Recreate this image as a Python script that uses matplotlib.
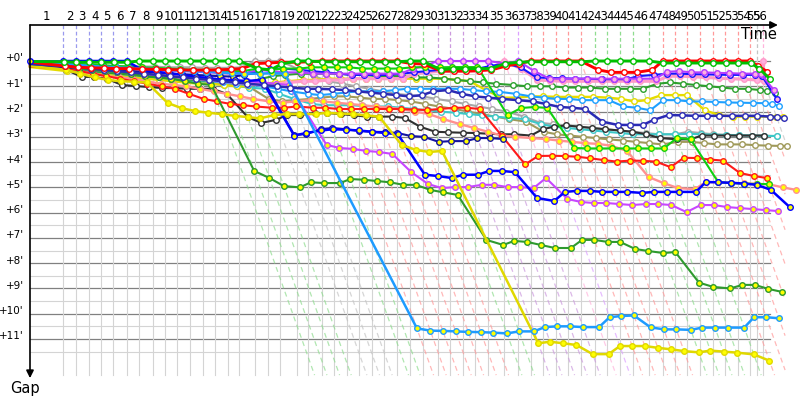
import matplotlib
matplotlib.use('Agg')
import matplotlib.pyplot as plt

# leader's lap end times (minutes of race time)
lap_end = [3.70, 5.11, 6.52, 7.89, 9.26, 10.74, 12.14, 13.63, 15.00, 16.37,
           17.78, 19.19, 20.56, 21.97, 23.26, 25.00, 26.41, 27.81, 29.63, 30.92,
           32.41, 33.81, 35.19, 36.59, 37.97, 39.37, 40.74, 42.22, 43.63, 45.30,
           46.67, 48.08, 49.48, 50.92, 52.70, 54.26, 55.63, 57.03, 58.41, 59.81,
           61.19, 62.78, 64.14, 65.56, 66.97, 68.81, 70.30, 71.67, 73.03, 74.44,
           75.86, 77.22, 78.63, 80.00, 80.74, 81.48]
# who led each lap (one letter per lap)
leader_code = "BBBBBBGGGGGGGGGXXXGGRRRRRRRGGPPPPPKVRRRRRGGGGGRRRRRRRRXK"

# gap to leader (minutes) for each lap a driver completed
gray = [0.1, 0.12, 0.15, 0.17, 0.2, 0.2, 0.22, 0.22, 0.25, 0.25,
        0.25, 0.27, 0.27, 0.27, 0.25, 0, 0, 0, 0.35, 0.6,
        0.8, 0.9, 1.0, 1.1, 1.2, 1.3, 1.35, 1.4, 1.5, 1.6,
        1.7, 1.8, 1.9, 2.0, 2.2, 2.45, 2.5, 2.55, 2.6, 2.65,
        2.7, 2.75, 2.8, 2.85, 2.9, 2.9, 2.8, 2.85, 2.9, 2.92,
        2.94, 2.95, 2.96, 2.97]
olive = [0.3, 0.35, 0.4, 0.45, 0.5, 0.55, 0.6, 0.65, 0.7, 0.75,
         0.8, 0.85, 0.9, 0.95, 1.0, 1.5, 1.6, 1.55, 1.5, 1.45,
         1.4, 1.4, 1.45, 1.5, 1.5, 1.55, 1.6, 1.7, 1.8, 1.9,
         2.0, 2.1, 2.2, 2.3, 2.4, 2.8, 2.9, 2.95, 3.0, 3.05,
         3.1, 3.15, 3.2, 3.25, 3.3, 3.2, 3.2, 3.25, 3.3, 3.3,
         3.3, 3.33, 3.35, 3.36, 3.36]
teal = [0.35, 0.4, 0.45, 0.5, 0.55, 0.6, 0.65, 0.7, 0.75, 0.8,
        0.85, 0.9, 0.95, 1.0, 1.05, 1.1, 1.3, 1.5, 1.7, 1.75,
        1.75, 1.75, 1.78, 1.8, 1.8, 1.85, 1.9, 1.95, 2.0, 2.05,
        2.1, 2.15, 2.2, 2.25, 2.3, 2.5, 2.6, 2.65, 2.7, 2.75,
        2.8, 2.85, 2.9, 2.9, 2.9, 2.9, 2.88, 2.9, 2.92, 2.93,
        2.94, 2.95, 2.96, 2.97]
black = [0.35, 0.63, 0.63, 0.71, 0.95, 0.99, 1.03, 1.07, 1.07, 1.1,
         1.1, 1.1, 1.3, 2.22, 2.45, 2.33, 2.14, 2.14, 2.06, 2.06,
         2.1, 2.15, 2.2, 2.2, 2.2, 2.25, 2.6, 2.8, 2.82, 2.84,
         2.85, 2.88, 2.9, 2.9, 2.95, 2.7, 2.6, 2.55, 2.6, 2.65,
         2.7, 2.75, 2.8, 2.9, 3.05, 3.1, 3.1, 2.95, 2.95, 2.95,
         2.95, 2.95, 2.95]
yellow2 = [0.4, 0.45, 0.5, 0.55, 0.6, 0.65, 0.7, 0.75, 0.8, 0.85,
           0.9, 0.9, 0.95, 1.0, 1.0, 0.9, 0.85, 0.8, 0.75, 0.75,
           0.7, 0.7, 0.7, 0.7, 0.7, 0.7, 0.7, 0.7, 0.7, 0.7,
           0.75, 0.8, 1.15, 1.45, 1.45, 1.4, 1.4, 1.42, 1.42, 1.42,
           1.42, 1.45, 1.5, 1.6, 1.55, 1.35, 1.35, 1.35, 1.95, 2.14,
           2.2, 2.2, 2.2, 2.2, 2.2, 2.2]
lightblue2 = [0.25, 0.3, 0.35, 0.4, 0.45, 0.5, 0.55, 0.6, 0.65, 0.7,
              0.75, 0.8, 0.85, 0.9, 0.95, 1.0, 1.1, 1.2, 1.3, 1.35,
              1.3, 1.25, 1.2, 1.2, 1.2, 1.15, 1.1, 1.1, 1.1, 1.1,
              1.1, 1.15, 1.2, 1.22, 1.3, 1.4, 1.45, 1.5, 1.5, 1.55,
              1.55, 1.55, 1.8, 1.85, 1.95, 1.55, 1.55, 1.6, 1.6, 1.62,
              1.64, 1.65, 1.66, 1.67, 1.7, 1.78]
dkgreen2 = [0.3, 0.35, 0.4, 0.45, 0.5, 0.55, 0.6, 0.65, 0.7, 0.72,
            0.75, 0.78, 0.8, 0.82, 0.85, 0.7, 0.6, 0.55, 0.5, 0.5,
            0.5, 0.5, 0.55, 0.55, 0.6, 0.6, 0.6, 0.65, 0.65, 0.7,
            0.75, 0.8, 0.85, 0.9, 0.95, 1.0, 1.0, 1.0, 1.05, 1.05,
            1.05, 1.1, 1.1, 1.1, 1.1, 0.9, 0.85, 0.9, 0.95, 1.0,
            1.05, 1.1, 1.1, 1.15, 1.2, 1.27]
pink = [0.2, 0.25, 0.3, 0.35, 0.4, 0.45, 0.5, 0.55, 0.6, 0.65,
        0.7, 0.75, 0.8, 0.85, 0.9, 0.95, 0.9, 0.85, 0.8, 0.8,
        0.75, 0.75, 0.7, 0.7, 0.7, 0.7, 0.7, 0.5, 0.45, 0.4,
        0.4, 0.4, 0.4, 0.3, 0, 0.3, 0.75, 0.78, 0.8, 0.8,
        0.8, 0.8, 0.8, 0.8, 0.8, 0.8, 0.6, 0.6, 0.62, 0.65,
        0.68, 0.7, 0.72, 0.75, 0.8, 0]
blue3 = [0.1, 0.15, 0.2, 0.22, 0.25, 0.28, 0.3, 0.32, 0.35, 0.37,
         0.4, 0.42, 0.45, 0.47, 0.5, 0.4, 0.3, 0.3, 0.35, 0.4,
         0.45, 0.5, 0.55, 0.55, 0.55, 0.55, 0.5, 0.45, 0.4, 0.35,
         0.3, 0.3, 0.3, 0.2, 0.1, 0.25, 0.65, 0.67, 0.68, 0.7,
         0.7, 0.72, 0.72, 0.72, 0.6, 0.55, 0.5, 0.5, 0.52, 0.53,
         0.54, 0.55, 0.55, 0.55, 0.6, 1.5]
purple = [0.15, 0.2, 0.22, 0.25, 0.27, 0.3, 0.32, 0.35, 0.37, 0.4,
          0.42, 0.45, 0.47, 0.5, 0.5, 0.35, 0.4, 0.45, 0.45, 0.5,
          0.5, 0.5, 0.5, 0.5, 0.5, 0.5, 0.5, 0.3, 0.2, 0,
          0, 0, 0, 0, 0.1, 0, 0.4, 0.7, 0.7, 0.7,
          0.7, 0.7, 0.7, 0.7, 0.7, 0.7, 0.43, 0.4, 0.45, 0.45,
          0.47, 0.48, 0.5, 0.5, 0.52, 1.15]
salmon = [0.3, 0.4, 0.5, 0.6, 0.65, 0.7, 0.8, 0.9, 0.95, 1.0,
          1.1, 1.2, 1.3, 1.4, 1.5, 1.6, 1.65, 1.6, 1.55, 1.6,
          1.65, 1.7, 1.75, 1.8, 1.85, 1.9, 2.0, 2.1, 2.3, 2.5,
          2.65, 2.8, 2.95, 3.0, 3.05, 3.09, 3.15, 3.2, 3.25, 3.28,
          3.35, 3.56, 4.59, 4.83, 5.03, 5.07, 4.79, 4.8, 4.82, 4.84,
          4.86, 4.88, 5.0, 5.1]
red2 = [0.3, 0.4, 0.5, 0.6, 0.7, 0.8, 0.9, 1.0, 1.1, 1.3,
        1.5, 1.6, 1.7, 1.75, 1.8, 1.85, 1.85, 1.8, 1.85, 1.85,
        1.9, 1.9, 1.9, 1.9, 1.9, 1.9, 1.92, 1.94, 1.9, 1.85,
        1.85, 1.9, 2.97, 4.09, 3.76, 3.75, 3.76, 3.79, 3.85, 3.92,
        3.98, 3.94, 3.95, 3.98, 4.2, 3.83, 3.84, 3.9, 3.94, 4.43,
        4.55, 4.63]
green2 = [0.1, 0.12, 0.15, 0.17, 0.2, 0.22, 0.25, 0.27, 0.3, 0.32,
          0.35, 0.35, 0.37, 0.4, 0.4, 0.3, 0.35, 0.3, 0.3, 0.25,
          0.25, 0.25, 0.25, 0.3, 0.3, 0.3, 0.3, 0.25, 0.25, 0.25,
          0.24, 0.24, 0.24, 2.14, 1.86, 1.82, 1.86, 3.44, 3.46, 3.46,
          3.46, 3.46, 3.46, 3.46, 3.46, 3.05, 3.09, 4.79, 4.83, 4.85,
          4.87, 4.87]
magenta = [0.25, 0.3, 0.35, 0.4, 0.45, 0.5, 0.55, 0.6, 0.62, 0.65,
           0.68, 0.7, 0.72, 0.75, 0.8, 0.85, 0.9, 0.95, 3.32, 3.44,
           3.48, 3.56, 3.6, 3.68, 4.4, 4.87, 5.03, 4.99, 4.99, 4.9,
           4.9, 4.99, 4.99, 5.03, 4.63, 5.46, 5.58, 5.62, 5.62, 5.66,
           5.7, 5.66, 5.66, 5.7, 5.98, 5.7, 5.7, 5.78, 5.82, 5.86,
           5.9, 5.94]
navy = [0.25, 0.3, 0.32, 0.35, 0.38, 0.4, 0.42, 0.45, 0.5, 0.52,
        0.55, 0.58, 0.6, 0.62, 0.55, 0.45, 2.93, 2.89, 2.7, 2.65,
        2.7, 2.77, 2.8, 2.81, 2.85, 2.97, 3.0, 3.2, 3.17, 3.17,
        3.05, 3.05, 3.09]
blue = [0, 0, 0, 0, 0, 0, 0.36, 0.43, 0.48, 0.55,
        0.63, 0.67, 0.75, 0.77, 0.79, 0.75, 2.95, 2.85, 2.75, 2.7,
        2.72, 2.75, 2.8, 2.85, 2.9, 4.5, 4.55, 4.63, 4.5, 4.5,
        4.35, 4.35, 4.4, 5.42, 5.54, 5.18, 5.14, 5.14, 5.18, 5.18,
        5.18, 5.22, 5.18, 5.18, 5.18, 5.18, 4.79, 4.8, 4.82, 4.85,
        4.9, 5.1, 5.78]
dkgreen = [0.2, 0.3, 0.35, 0.4, 0.45, 0.5, 0.6, 0.65, 0.7, 0.8,
           0.9, 0.95, 4.35, 4.63, 4.95, 5.0, 4.8, 4.83, 4.83, 4.67,
           4.7, 4.75, 4.8, 4.9, 4.9, 5.1, 5.2, 5.3, 7.08, 7.28,
           7.12, 7.16, 7.28, 7.4, 7.4, 7.08, 7.08, 7.16, 7.16, 7.44,
           7.52, 7.6, 7.56, 8.77, 8.94, 9.0, 8.86, 8.86, 9.02, 9.14]
yellow = [0.35, 0.5, 0.65, 0.75, 0.8, 0.82, 0.85, 1.66, 1.87, 1.98,
          2.05, 2.1, 2.17, 2.22, 2.27, 2.14, 2.1, 2.1, 2.1, 2.05,
          2.08, 2.1, 2.15, 2.2, 3.32, 3.52, 3.6, 3.56, None, 11.17,
          11.11, 11.17, 11.24, 11.6, 11.6, 11.28, 11.28, 11.28, 11.35, 11.41,
          11.48, 11.53, 11.46, 11.5, 11.54, 11.61, 11.86]
lightblue = [0.1, 0.15, 0.2, 0.22, 0.25, 0.28, 0.3, 0.32, 0.35, 0.38,
             0.4, 0.42, 0.45, 0.48, 0.5, 0.5, 0.48, 0.5, None, None,
             10.58, 10.67, 10.68, 10.7, 10.72, 10.73, 10.75, 10.78, 10.7, 10.7,
             10.53, 10.5, 10.5, 10.53, 10.53, 10.14, 10.09, 10.07, 10.54, 10.62,
             10.62, 10.64, 10.55, 10.55, 10.55, 10.55, 10.14, 10.14, 10.18]
indigo = [0.2, 0.25, 0.3, 0.35, 0.4, 0.45, 0.5, 0.55, 0.6, 0.65,
          0.7, 0.75, 0.8, 0.85, 0.9, 0.95, 1.0, 1.05, 1.1, 1.1,
          1.12, 1.15, 1.2, 1.25, 1.3, 1.35, 1.4, 1.35, 1.2, 1.15,
          1.3, 1.4, 1.45, 1.5, 1.55, 1.6, 1.7, 1.82, 1.85, 1.9,
          2.4, 2.53, 2.53, 2.53, 2.33, 2.14, 2.15, 2.17, 2.17, 2.17,
          2.17, 2.17, 2.17, 2.2, 2.22, 2.26]
red = [0.2, 0.25, 0.27, 0.28, 0.3, 0.3, 0.32, 0.33, 0.34, 0.35,
       0.36, 0.36, 0.35, 0.33, 0.3, 0.1, 0.08, 0.05, 0.05, 0.03,
       0, 0, 0, 0, 0, 0, 0, 0.1, 0.12, 0.4,
       0.4, 0.4, 0.38, 0.35, 0.2, 0.1, 0, 0, 0, 0,
       0, 0.35, 0.45, 0.45, 0.45, 0.35, 0, 0, 0, 0,
       0, 0, 0, 0, 0.2, 0.42]
green = [0.03, 0.05, 0.05, 0.05, 0.05, 0.05, 0, 0, 0, 0,
         0, 0, 0, 0, 0, 0.3, 0.35, 0.12, 0, 0,
         0.03, 0.03, 0.03, 0.03, 0.03, 0.03, 0.03, 0, 0, 0.35,
         0.3, 0.3, 0.3, 0.3, 0.1, 0.05, 0.03, 0.03, 0.03, 0.03,
         0.03, 0, 0, 0, 0, 0, 0.08, 0.08, 0.08, 0.08,
         0.08, 0.08, 0.08, 0.08, 0.3, 0.7]

# gap on the starting grid, same order as the drivers list below
grid_gap = [0.12, 0.2, 0.22, 0.18, 0.24, 0.16, 0.2, 0.14, 0.08, 0.1,
            0.2, 0.22, 0.06, 0.16, 0.14, 0.0, 0.12, 0.2, 0.08, 0.12,
            0.04, 0.02]

# drawing order, line colour, marker face, line width
drivers = [
    (gray, '#a8a8a8', 'white', 1.5),
    (olive, '#a09a5a', 'white', 1.5),
    (teal, '#3cc8c8', 'white', 1.5),
    (black, '#303030', 'white', 1.5),
    (yellow2, '#e6dc00', 'white', 1.7),
    (lightblue2, '#1ea0ff', 'white', 1.5),
    (dkgreen2, '#2ca02c', 'white', 1.5),
    (pink, '#ff9ac8', '#ffb0e0', 2.3),
    (blue3, '#1414ff', '#ffb0e0', 1.5),
    (purple, '#b43cff', '#ffb0e0', 1.5),
    (salmon, '#ff9090', 'yellow', 1.7),
    (red2, '#ff1a1a', 'yellow', 1.5),
    (green2, '#10d010', 'yellow', 1.5),
    (magenta, '#c846ff', 'yellow', 1.5),
    (navy, '#1414a0', 'yellow', 1.5),
    (blue, '#0000ff', 'yellow', 1.8),
    (dkgreen, '#2e9a2e', 'yellow', 1.5),
    (yellow, '#e0d800', 'yellow', 1.8),
    (lightblue, '#1e9bff', 'yellow', 1.8),
    (indigo, '#2a2ab4', 'white', 1.8),
    (red, '#ff0000', 'white', 2.1),
    (green, '#00c000', 'white', 2.1),
]

lap_line_col = {'B': '#9a9aee', 'G': '#8fdc8f', 'X': '#c4c4c4', 'R': '#ff9a9a',
                'P': '#cc9ade', 'K': '#ffb4dc', 'V': '#dca0ff'}

plt.rcParams['font.family'] = ['DejaVu Sans']
fig = plt.figure(figsize=(8, 4), dpi=100)
ax = fig.add_axes([0, 0, 1, 1])
# pixel layout: 9 px per minute of time, 25.27 px per minute of gap
ax.set_xlim(-30 / 9, 770 / 9)
ax.set_ylim(339 / 25.27, -61 / 25.27)
ax.axis('off')

t_right = 82.2
g_top = -36 / 25.27
g_bottom = 12.43

# grid
for i in range(24):
    g = i * 0.5
    major = i % 2 == 0
    ax.plot([0, t_right], [g, g], color='#808080' if major else '#d4d4d4',
            lw=0.9 if major else 0.8, zorder=1)
for t in lap_end:
    ax.plot([t, t], [0, g_bottom], color='#d4d4d4', lw=0.8, zorder=1)

# lap lines above zero and lapping diagonals
for k, (t, c) in enumerate(zip(lap_end, leader_code)):
    col = lap_line_col[c]
    ax.plot([t, t], [g_top, 0], color=col, lw=0.9, ls=(0, (3, 2)), zorder=1.5)
    if k >= 11:
        d = min(g_bottom, 83.9 - t)
        ax.plot([t, t + d], [0, d], color=col, lw=0.9, ls=(0, (4, 3)),
                alpha=0.7, zorder=1.5)

# drivers
for (vals, col, face, lw), g0 in zip(drivers, grid_gap):
    xs = [lap_end[i] + g for i, g in enumerate(vals) if g is not None]
    ys = [g for g in vals if g is not None]
    ax.plot([0, xs[0]], [g0, ys[0]], color=col, lw=lw, zorder=3)
    ax.plot(xs, ys, color=col, lw=lw, marker='o', ms=4.0, mfc=face,
            mec=col, mew=1.0, zorder=3, solid_joinstyle='round')
ax.plot([0], [0], marker='o', ms=4.0, mfc='yellow', mec='#0000ff', zorder=3)

# axes with arrows
ax.annotate('', xy=(0, 12.55), xytext=(0, g_top),
            arrowprops=dict(arrowstyle='-|>', color='black', lw=1.2,
                            mutation_scale=11, shrinkA=0, shrinkB=0), zorder=5)
ax.annotate('', xy=(83.1, g_top), xytext=(0, g_top),
            arrowprops=dict(arrowstyle='-|>', color='black', lw=1.2,
                            mutation_scale=11, shrinkA=0, shrinkB=0), zorder=5)
ax.text(-0.6, 12.95, 'Gap', fontsize=10.5, ha='center', va='center')
ax.text(81.0, -1.05, 'Time', fontsize=10.5, ha='center', va='center')

# y labels
for g in range(12):
    ax.text(-0.7, g - 0.1, "+%d'" % g, fontsize=7.5, ha='right', va='center')

# lap numbers
prev = 0
for k, t in enumerate(lap_end):
    ax.text((prev + t) / 2, -1.78, str(k + 1), fontsize=8.5, ha='center',
            va='center')
    prev = t

fig.savefig('out.png', dpi=100, facecolor='white')
